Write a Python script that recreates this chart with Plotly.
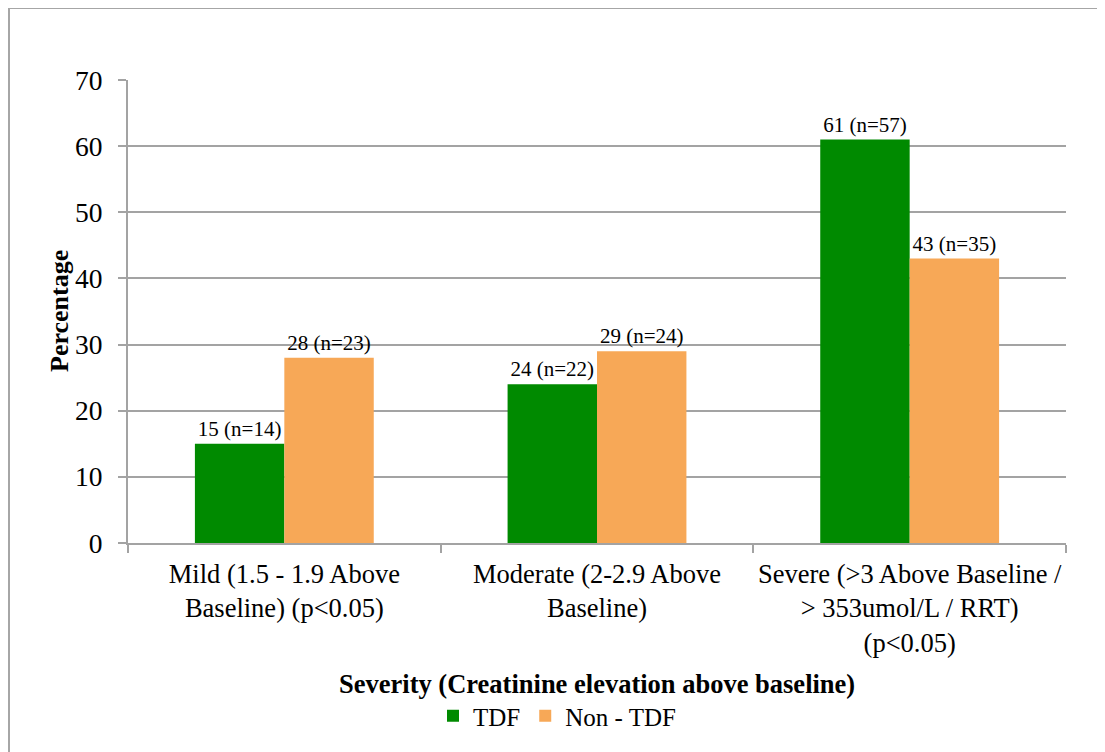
import plotly.graph_objects as go

categories = ["Mild", "Moderate", "Severe"]
tick_labels = [
    "Mild (1.5 - 1.9 Above<br>Baseline) (p&lt;0.05)",
    "Moderate (2-2.9 Above<br>Baseline)",
    "Severe (&gt;3 Above Baseline /<br>&gt; 353umol/L / RRT)<br>(p&lt;0.05)",
]
tdf_values = [15, 24, 61]
tdf_n = [14, 22, 57]
non_tdf_values = [28, 29, 43]
non_tdf_n = [23, 24, 35]

W, H = 1105, 752
OFF = 8  # page body margin offset
L_PAGE, R_PAGE, T_PAGE, B_PAGE = 128, 1066, 80, 543
PW, PH = R_PAGE - L_PAGE, B_PAGE - T_PAGE
L, T = L_PAGE - OFF, T_PAGE - OFF
R = W - (R_PAGE - OFF)
B = H - (B_PAGE - OFF)

def px(x):
    return (x - L_PAGE) / PW

def py(y):
    return (B_PAGE - y) / PH

FONT = "Liberation Serif, Times New Roman, serif"
GRID = "#a3a3a3"

fig = go.Figure()
fig.add_trace(go.Bar(
    x=categories, y=tdf_values, name="TDF",
    marker=dict(color="#008a00", line=dict(width=0)),
    text=[f"{v} (n={n})" for v, n in zip(tdf_values, tdf_n)],
    textposition="outside", cliponaxis=False,
    textfont=dict(family=FONT, size=21, color="#000000"),
))
fig.add_trace(go.Bar(
    x=categories, y=non_tdf_values, name="Non - TDF",
    marker=dict(color="#f7a857", line=dict(width=0)),
    text=[f"{v} (n={n})" for v, n in zip(non_tdf_values, non_tdf_n)],
    textposition="outside", cliponaxis=False,
    textfont=dict(family=FONT, size=21, color="#000000"),
))

fig.update_layout(
    width=W, height=H,
    margin=dict(l=L, r=R, t=T, b=B, autoexpand=False),
    paper_bgcolor="white", plot_bgcolor="white",
    font=dict(family=FONT, size=26, color="#000000"),
    barmode="group", bargap=0.428, bargroupgap=0,
    showlegend=True,
    legend=dict(orientation="h", x=px(433), xanchor="left", y=py(716), yanchor="middle",
                font=dict(family=FONT, size=25), bgcolor="rgba(0,0,0,0)"),
    xaxis=dict(
        tickmode="array", tickvals=categories, ticktext=tick_labels,
        tickangle=0,
        showline=True, linecolor=GRID, linewidth=2,
        ticks="outside", tickson="boundaries", ticklen=8, tickcolor=GRID, tickwidth=2,
        ticklabelstandoff=6, showgrid=False,
        tickfont=dict(family=FONT, size=26.5),
    ),
    yaxis=dict(
        range=[0, 70], dtick=10, tick0=0,
        showline=True, linecolor=GRID, linewidth=2,
        ticks="outside", ticklen=8, tickcolor=GRID, tickwidth=2,
        showgrid=True, gridcolor=GRID, gridwidth=2, zeroline=False,
        ticklabelstandoff=10,
        tickfont=dict(family=FONT, size=27.5),
    ),
    annotations=[
        dict(text="<b>Percentage</b>", xref="paper", yref="paper", x=px(59), y=py(311),
             xanchor="center", yanchor="middle", textangle=-90, showarrow=False,
             font=dict(family=FONT, size=26)),
        dict(text="<b>Severity (Creatinine elevation above baseline)</b>", xref="paper", yref="paper",
             x=0.5, y=py(684), xanchor="center", yanchor="middle", showarrow=False,
             font=dict(family=FONT, size=26.5)),
    ],
    shapes=[
        dict(type="rect", xref="paper", yref="paper", x0=px(9), x1=px(1115), y0=py(762), y1=py(8),
             line=dict(color="#a6a6a6", width=2), fillcolor="rgba(0,0,0,0)", layer="below"),
    ],
)

fig.write_html("out.html")
